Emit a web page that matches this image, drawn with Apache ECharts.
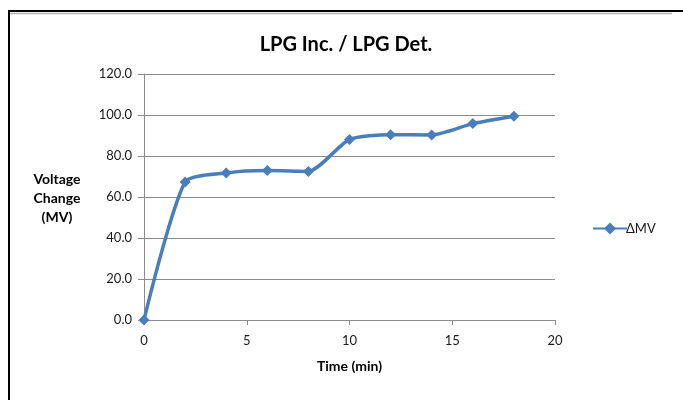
<!DOCTYPE html>
<html><head><meta charset="utf-8">
<script src="https://cdn.jsdelivr.net/npm/echarts@6/dist/echarts.min.js"></script>
<style>html,body{margin:0;padding:0;background:#fff}#c{width:683px;height:400px}</style>
</head><body><div id="c"></div>
<script>
const timeMin = [0, 2, 4, 6, 8, 10, 12, 14, 16, 18];
const deltaMV = [0, 67.3, 71.7, 72.9, 72.5, 88.1, 90.4, 90.3, 95.8, 99.4];
const seriesName = 'ΔMV';
const titleText = 'LPG Inc. / LPG Det.';
const xName = 'Time (min)';
const yNameLines = ['Voltage', 'Change', '(MV)'];

const FONT = 'Lato, "Open Sans", sans-serif';
const chart = echarts.init(document.getElementById('c'), null, {renderer: 'canvas'});
chart.setOption({
  animation: false,
  backgroundColor: '#fff',
  title: {
    text: titleText, left: 341, top: 30, textAlign: 'center',
    textStyle: {fontFamily: FONT, fontSize: 20, fontWeight: 'bold', color: '#000'}
  },
  grid: {left: 144, right: 128, top: 74, bottom: 80},
  xAxis: {
    type: 'value', min: 0, max: 20, interval: 5,
    name: xName, nameLocation: 'middle', nameGap: 39,
    nameTextStyle: {fontFamily: FONT, fontSize: 14, fontWeight: 'bold', color: '#000'},
    axisLine: {show: true, lineStyle: {color: '#8c8c8c', width: 1}},
    axisTick: {show: true, length: 5, lineStyle: {color: '#8c8c8c'}},
    axisLabel: {fontFamily: FONT, fontSize: 13, color: '#1a1a1a', margin: 14},
    splitLine: {show: false}
  },
  yAxis: {
    type: 'value', min: 0, max: 120, interval: 20,
    axisLine: {show: true, lineStyle: {color: '#8c8c8c', width: 1}},
    axisTick: {show: true, length: 6, lineStyle: {color: '#8c8c8c'}},
    axisLabel: {fontFamily: FONT, fontSize: 13, color: '#1a1a1a', margin: 12,
      formatter: v => v.toFixed(1)},
    splitLine: {show: true, lineStyle: {color: '#8c8c8c', width: 1}}
  },
  legend: {
    left: 587, top: 217, itemWidth: 34, itemHeight: 15, itemGap: 0,
    textStyle: {fontFamily: FONT, fontSize: 13, color: '#1a1a1a', padding: [0,0,0,-6]},
    data: [seriesName]
  },
  graphic: [
    {type: 'line', shape: {x1: 8, y1: 11, x2: 683, y2: 11}, style: {stroke: '#000', lineWidth: 2}, silent: true},
    {type: 'line', shape: {x1: 9, y1: 10, x2: 9, y2: 400}, style: {stroke: '#000', lineWidth: 2}, silent: true},
    {type: 'line', shape: {x1: 10, y1: 13.5, x2: 672, y2: 13.5}, style: {stroke: '#b0b0b0', lineWidth: 1.5}, silent: true},
    {type: 'text', x: 57, y: 170,
      style: {text: yNameLines.join('\n'), fontFamily: FONT, fontSize: 14, fontWeight: 'bold', fill: '#000', textAlign: 'center', lineHeight: 19}}
  ],
  series: [{
    name: seriesName, type: 'line',
    data: timeMin.map((t, i) => [t, deltaMV[i]]),
    smooth: 0.22,
    symbol: 'diamond', symbolSize: 11,
    lineStyle: {color: '#4A7EBB', width: 3.5},
    itemStyle: {color: '#4A7EBB'}
  }]
});
</script></body></html>
